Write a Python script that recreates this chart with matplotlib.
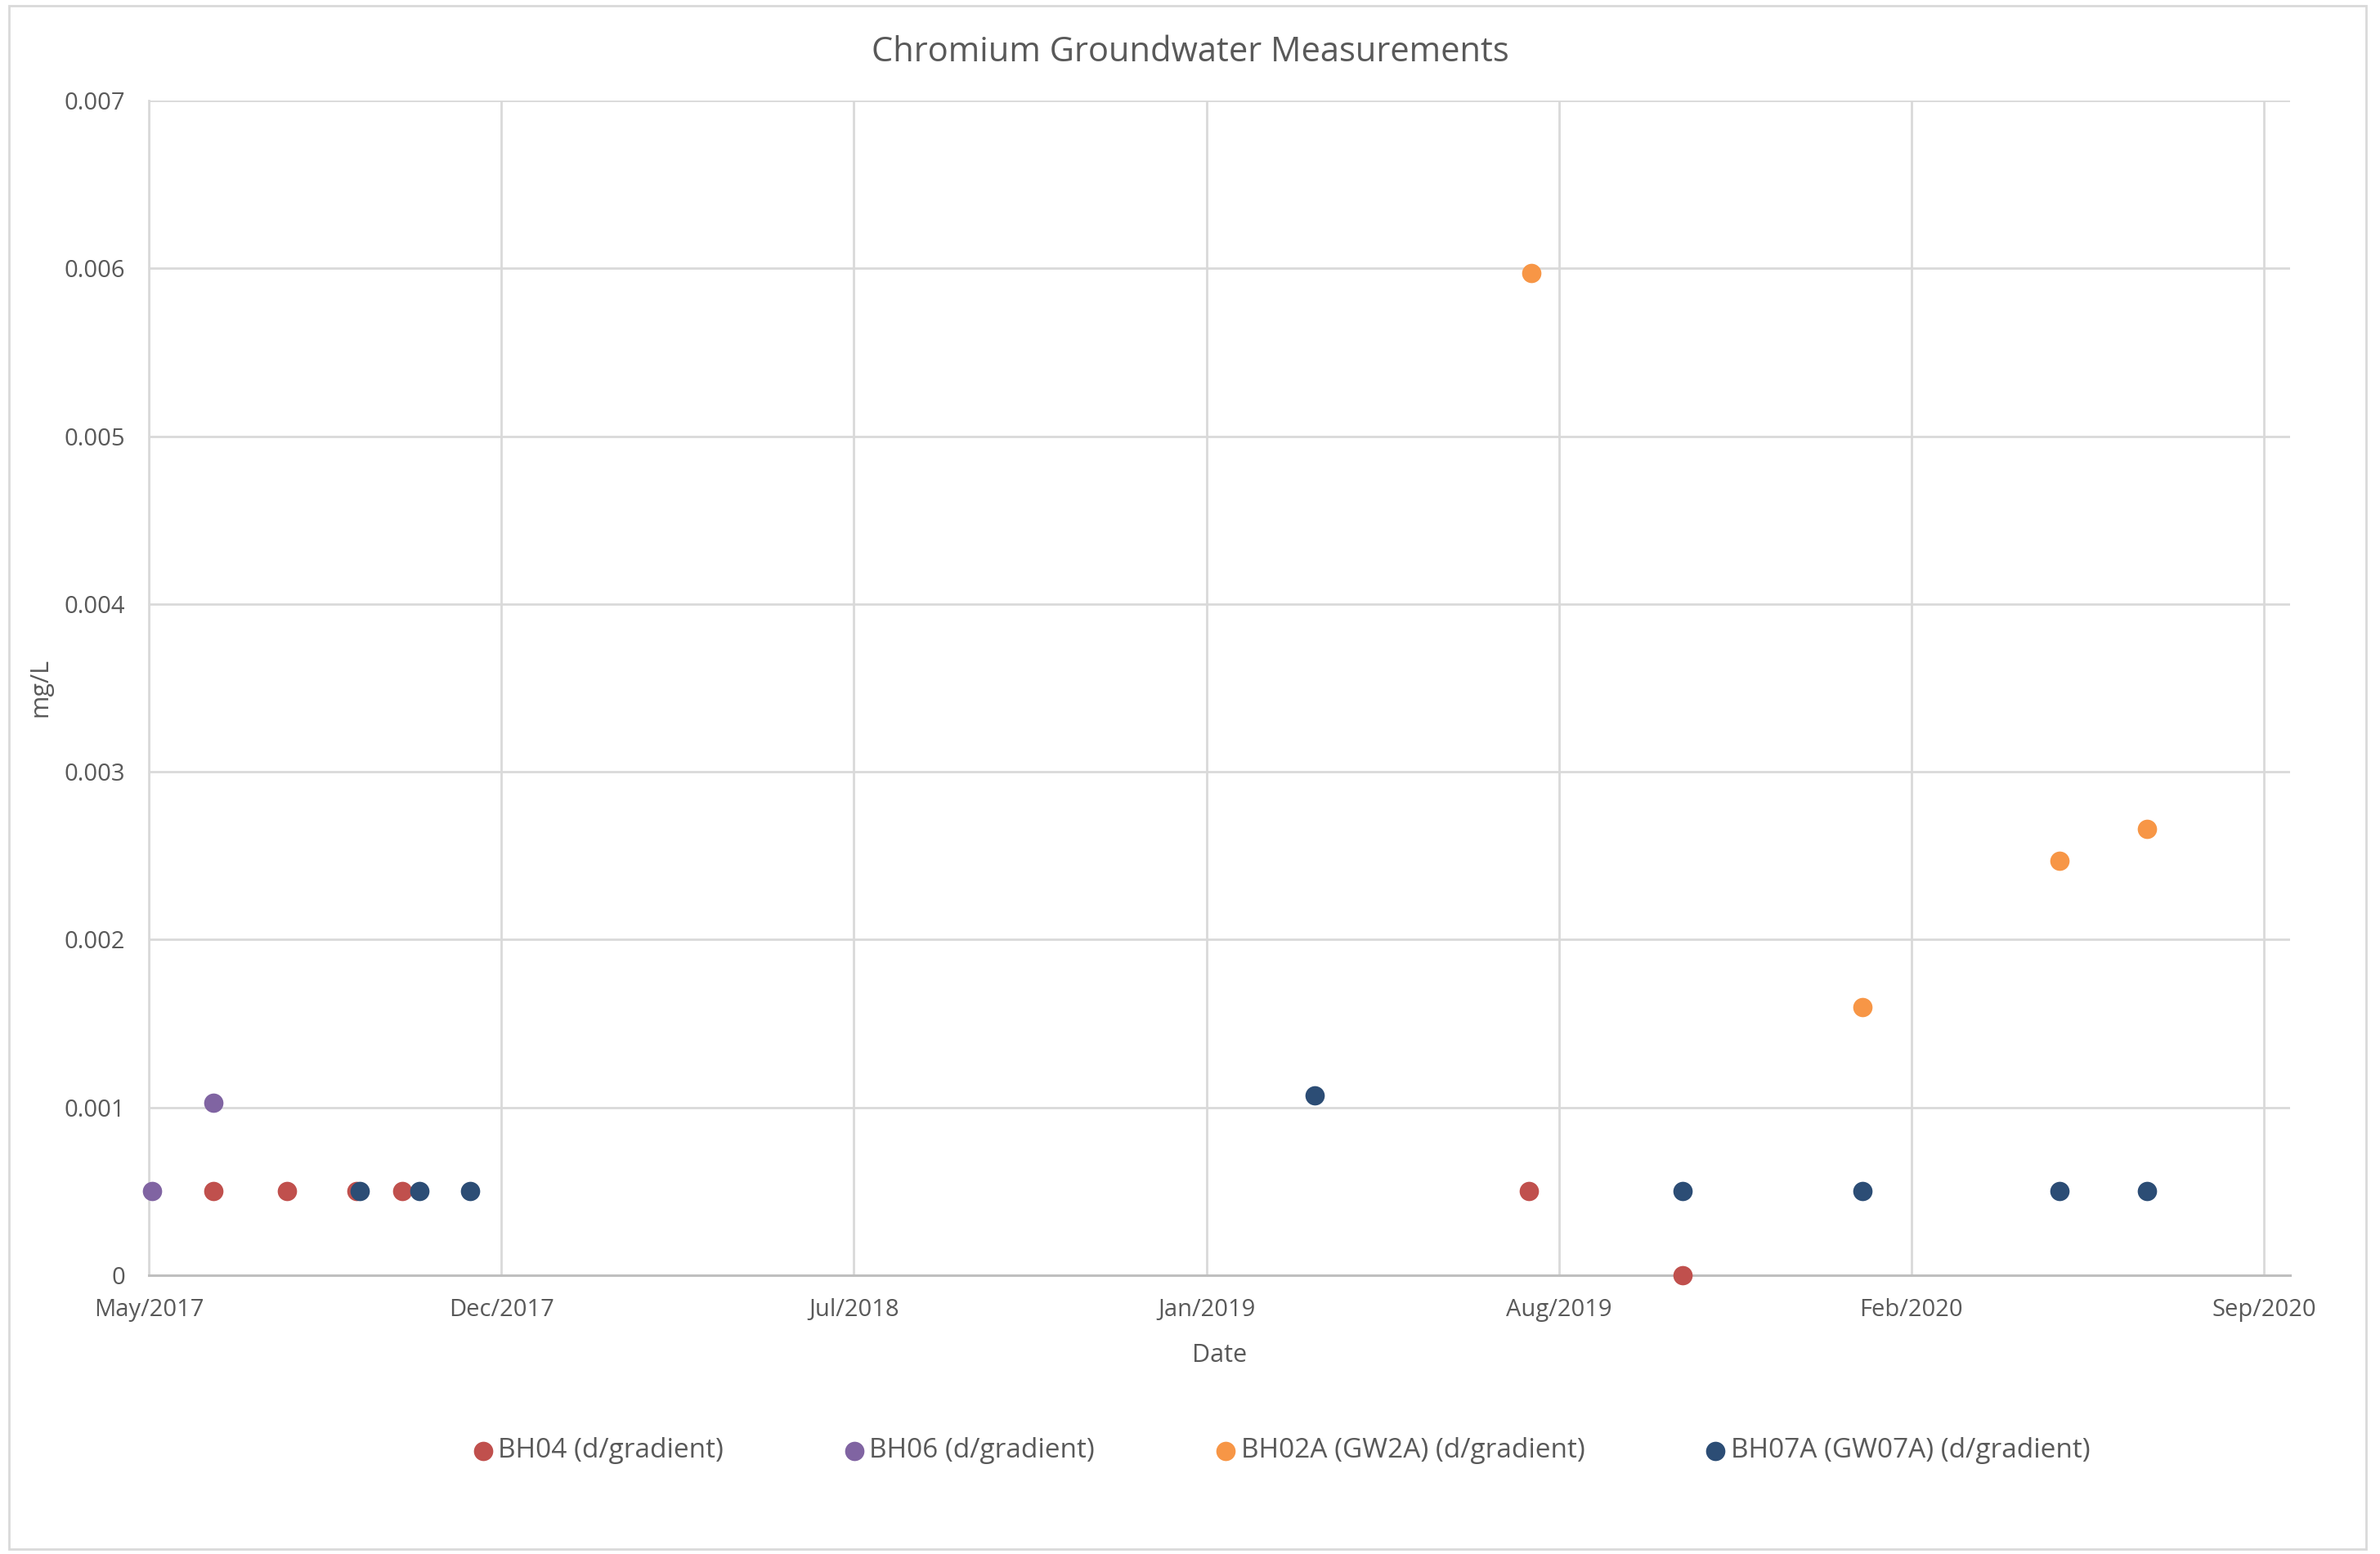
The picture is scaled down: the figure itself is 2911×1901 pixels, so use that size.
import datetime as dt
import matplotlib
matplotlib.use("Agg")
import matplotlib.pyplot as plt
import matplotlib.dates as mdates
from matplotlib.patches import Rectangle

plt.rcParams['font.family'] = ['Open Sans', 'DejaVu Sans']

# sample dates and Cr values (mg/L)
bh04_dates = ["2017-07-01", "2017-08-12", "2017-09-21", "2017-10-17", "2019-07-25", "2019-10-21"]
bh04_vals = [0.0005, 0.0005, 0.0005, 0.0005, 0.0005, 0.0]

bh06_dates = ["2017-05-27", "2017-07-01"]
bh06_vals = [0.0005, 0.00103]

bh02a_dates = ["2019-07-26", "2020-02-01", "2020-05-24", "2020-07-13"]
bh02a_vals = [0.00597, 0.0016, 0.00247, 0.00266]

bh07a_dates = ["2017-09-23", "2017-10-27", "2017-11-25", "2019-03-24", "2019-10-21",
               "2020-02-01", "2020-05-24", "2020-07-13"]
bh07a_vals = [0.0005, 0.0005, 0.0005, 0.00107, 0.0005, 0.0005, 0.0005, 0.0005]

series_names = ["BH04 (d/gradient)", "BH06 (d/gradient)",
                "BH02A (GW2A) (d/gradient)", "BH07A (GW07A) (d/gradient)"]
colors = ["#C0504D", "#8064A2", "#F79646", "#2C4D75"]

# excel style date axis: start + major unit in days
axis_start = dt.date(2017, 5, 25)
major_unit = 202
axis_span = 1227


def to_dates(lst):
    return [dt.datetime.strptime(s, "%Y-%m-%d") for s in lst]


fig = plt.figure(figsize=(29.11, 19.01), dpi=100)
ax = fig.add_axes([0.0626, 0.1794, 0.8996, 0.7559])

txt = "#595959"
grid = "#D9D9D9"

all_dates = [bh04_dates, bh06_dates, bh02a_dates, bh07a_dates]
all_vals = [bh04_vals, bh06_vals, bh02a_vals, bh07a_vals]
for d, v, name, c in zip(all_dates, all_vals, series_names, colors):
    ax.scatter(to_dates(d), v, s=290, color=c, label=name, zorder=3,
               linewidths=0, clip_on=False)

start = dt.datetime.combine(axis_start, dt.time())
ax.set_xlim(start, start + dt.timedelta(days=axis_span))
ax.set_ylim(0, 0.007)

xticks = [start + dt.timedelta(days=major_unit * i) for i in range(7)]
ax.set_xticks(xticks)
ax.xaxis.set_major_formatter(mdates.DateFormatter("%b/%Y"))
ax.set_yticks([i * 0.001 for i in range(8)])
ax.set_yticklabels(["0"] + ["%.3f" % (i * 0.001) for i in range(1, 8)])

ax.grid(True, color=grid, linewidth=2)
ax.set_axisbelow(True)
for side in ["top", "right"]:
    ax.spines[side].set_visible(False)
ax.spines["left"].set_color(grid)
ax.spines["left"].set_linewidth(2)
ax.spines["bottom"].set_color("#BFBFBF")
ax.spines["bottom"].set_linewidth(2.2)
ax.tick_params(length=0, labelsize=21, colors=txt)
ax.tick_params(axis="y", pad=21)
ax.tick_params(axis="x", pad=20)

ax.set_xlabel("Date", fontsize=22, color=txt, labelpad=19)
ax.set_ylabel("mg/L", fontsize=22, color=txt, labelpad=10)
fig.text(0.5, 0.9665, "Chromium Groundwater Measurements", fontsize=30,
         color=txt, ha="center", va="center")

leg = fig.legend(loc="center", bbox_to_anchor=(0.5377, 0.0663), ncol=4,
                 frameon=False, fontsize=24, markerscale=1.0,
                 handletextpad=0.05, columnspacing=4.3, handlelength=1.0)
for t in leg.get_texts():
    t.set_color(txt)

# chart area border
fig.patches.append(Rectangle((11 / 2911, 6 / 1901), 2883 / 2911, 1888 / 1901,
                             transform=fig.transFigure, fill=False,
                             edgecolor=grid, linewidth=2))

fig.savefig("out.png", dpi=100)
